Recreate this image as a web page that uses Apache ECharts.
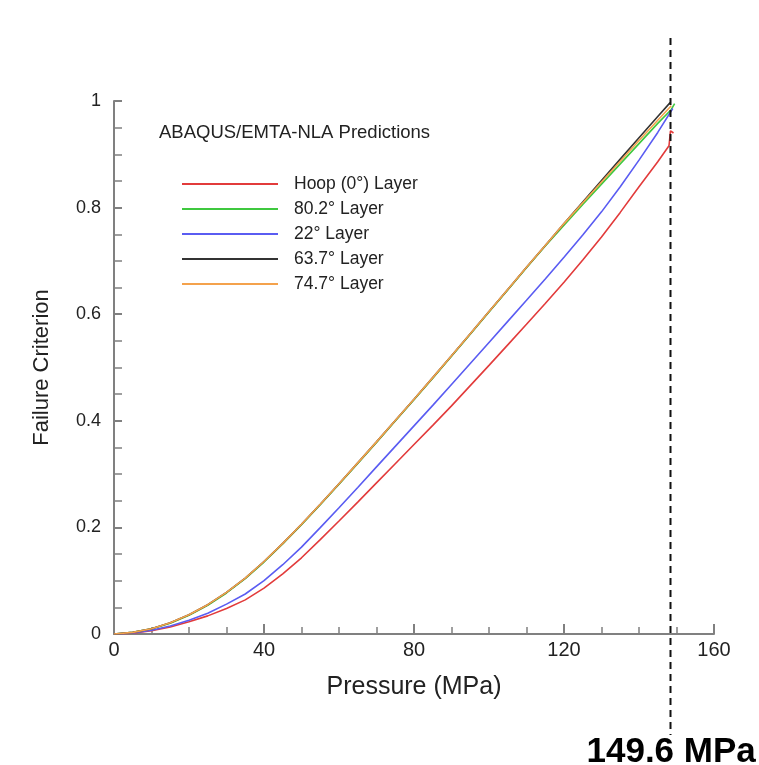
<!DOCTYPE html>
<html>
<head>
<meta charset="utf-8">
<script src="https://cdn.jsdelivr.net/npm/echarts@6/dist/echarts.min.js"></script>
<style>
  html, body { margin: 0; padding: 0; background: #fff; }
  #main { width: 759px; height: 765px; }
</style>
</head>
<body>
<div id="main"></div>
<script>
// pressure steps (MPa) shared by all curves
var pressure = [0, 5, 10, 15, 20, 25, 30, 35, 40, 45, 50, 55, 60, 65, 70, 75,
  80, 85, 90, 95, 100, 105, 110, 115, 120, 125, 130, 135, 140, 145];

// failure criterion
var hoop = [0, 0.0015, 0.006, 0.013, 0.023, 0.034, 0.048, 0.064, 0.086, 0.113, 0.143, 0.177, 0.212, 0.2475, 0.2835, 0.3195,
  0.3555, 0.3915, 0.428, 0.466, 0.504, 0.5425, 0.581, 0.62, 0.66, 0.7015, 0.745, 0.791, 0.839, 0.886];
var hoopEnd = [[148, 0.916], [148.4, 0.944], [149.2, 0.94]];

var l802 = [0, 0.003, 0.01, 0.02, 0.035, 0.054, 0.077, 0.104, 0.135, 0.169, 0.205, 0.2425, 0.281, 0.32, 0.3595, 0.3995,
  0.4395, 0.48, 0.521, 0.5625, 0.604, 0.6455, 0.687, 0.728, 0.767, 0.806, 0.844, 0.882, 0.92, 0.958];
var l802End = [[148.5, 0.983], [149.5, 0.995]];

var l22 = [0, 0.002, 0.007, 0.015, 0.026, 0.039, 0.056, 0.075, 0.1, 0.13, 0.163, 0.1995, 0.237, 0.275, 0.3135, 0.352,
  0.3905, 0.429, 0.468, 0.5075, 0.547, 0.5865, 0.626, 0.666, 0.707, 0.7485, 0.792, 0.839, 0.889, 0.941];
var l22End = [[149, 0.986]];

var l637 = [0, 0.003, 0.01, 0.021, 0.036, 0.055, 0.078, 0.105, 0.136, 0.17, 0.206, 0.2435, 0.282, 0.321, 0.3605, 0.4005,
  0.4405, 0.481, 0.522, 0.5635, 0.605, 0.6465, 0.688, 0.729, 0.77, 0.8105, 0.851, 0.891, 0.931, 0.971];
var l637End = [[148.3, 0.997]];

var l747 = [0, 0.003, 0.01, 0.021, 0.036, 0.055, 0.078, 0.105, 0.136, 0.17, 0.206, 0.2435, 0.282, 0.321, 0.3605, 0.4005,
  0.4405, 0.481, 0.522, 0.5635, 0.605, 0.6465, 0.688, 0.729, 0.77, 0.809, 0.848, 0.887, 0.926, 0.964];
var l747End = [[148.6, 0.991]];

var names = ['Hoop (0°) Layer', '80.2° Layer', '22° Layer', '63.7° Layer', '74.7° Layer'];
var colors = ['#e23b3b', '#3fc83f', '#5a5cf2', '#333333', '#f4a24c'];
var failPressure = 148.4;  // where the dashed line sits on the axis
var failLabel = '149.6 MPa';

function pairs(vals, tail) {
  var out = pressure.map(function (p, i) { return [p, vals[i]]; });
  return out.concat(tail);
}

var curves = [pairs(hoop, hoopEnd), pairs(l802, l802End), pairs(l22, l22End),
  pairs(l637, l637End), pairs(l747, l747End)];

var font = 'Liberation Sans, Arial, sans-serif';
var chart = echarts.init(document.getElementById('main'));

chart.setOption({
  animation: false,
  backgroundColor: '#fff',
  title: {
    text: 'ABAQUS/EMTA-NLA Predictions',
    left: 159, top: 123, padding: 0,
    textStyle: { fontFamily: font, fontSize: 18.5, fontWeight: 'normal', color: '#222' }
  },
  legend: {
    orient: 'vertical', left: 182, top: 175, padding: 0,
    icon: 'rect', itemWidth: 96, itemHeight: 2, itemGap: 7,
    textStyle: { fontFamily: font, fontSize: 17.5, color: '#222', lineHeight: 18, padding: [0, 0, 0, 11] },
    data: names
  },
  grid: { left: 114, right: 45, top: 101, bottom: 131 },
  xAxis: {
    type: 'value', min: 0, max: 160, interval: 40,
    name: 'Pressure (MPa)', nameLocation: 'middle', nameGap: 41,
    nameTextStyle: { fontFamily: font, fontSize: 25, color: '#222' },
    axisLine: { lineStyle: { color: '#808080', width: 2 } },
    axisTick: { inside: true, length: 10, lineStyle: { color: '#808080', width: 2 } },
    minorTick: { show: true, splitNumber: 4, length: 7, lineStyle: { color: '#808080', width: 1.5 } },
    axisLabel: { fontFamily: font, fontSize: 20, color: '#222', margin: 6 },
    splitLine: { show: false }
  },
  yAxis: {
    type: 'value', min: 0, max: 1, interval: 0.2,
    name: 'Failure Criterion', nameLocation: 'middle', nameGap: 61, nameRotate: 90,
    nameTextStyle: { fontFamily: font, fontSize: 22, color: '#222' },
    axisLine: { show: true, lineStyle: { color: '#808080', width: 2 } },
    axisTick: { show: true, inside: true, length: 8, lineStyle: { color: '#808080', width: 2 } },
    minorTick: { show: true, splitNumber: 4, length: 8, lineStyle: { color: '#808080', width: 1.5 } },
    axisLabel: { fontFamily: font, fontSize: 18, color: '#222', margin: 13 },
    splitLine: { show: false }
  },
  series: curves.map(function (d, i) {
    return {
      name: names[i], type: 'line', data: d,
      showSymbol: false, symbol: 'none',
      smooth: false,
      lineStyle: { color: colors[i], width: 1.6 },
      itemStyle: { color: colors[i] }
    };
  })
});

// dashed failure line reaching beyond the plot, plus its label
var px = chart.convertToPixel({ xAxisIndex: 0 }, failPressure);
chart.setOption({
  graphic: [
    {
      type: 'line', z: 100,
      shape: { x1: px, y1: 38, x2: px, y2: 735 },
      style: { stroke: '#111', lineWidth: 2, lineDash: [7, 5] }
    },
    {
      type: 'text', z: 100, left: px - 84, top: 735,
      style: { text: failLabel, fontFamily: font, fontSize: 35, fontWeight: 'bold', fill: '#000' }
    }
  ]
});
</script>
</body>
</html>
